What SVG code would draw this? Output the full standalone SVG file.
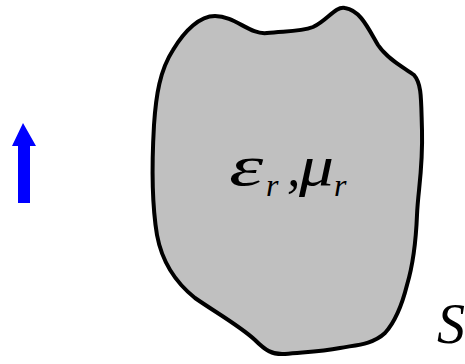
<svg xmlns="http://www.w3.org/2000/svg" width="465" height="364" viewBox="0 0 465 364">
<style>
.t{font-family:"Liberation Serif","DejaVu Serif",serif;font-style:italic;fill:#000}
</style>
<rect width="465" height="364" fill="#fff"/>
<g id="body">
<path d="M173,50 C185,30 200,16 215,16 C235,16 250,35 267,33 C285,31 300,32 313,27 C328,20 335,6 345,8 C360,10 368,28 378,45 C388,60 405,68 414,75 C422,84 421,100 422,130 C423,170 418,190 417,215 C416,240 413,265 407,285 C402,305 395,322 385,333 C372,345 355,345 340,348 C320,352 305,352 285,354 C272,355 265,350 255,340 C240,326 215,312 195,298 C175,282 162,262 157,235 C152,205 152,160 154,125 C156,95 160,70 173,50 Z" fill="#c0c0c0" stroke="#000" stroke-width="4" stroke-linejoin="round"/>
<text class="t" font-size="58" transform="translate(229,185) scale(1.5,1)">ε</text>
<text class="t" x="266" y="196" font-size="32">r</text>
<text class="t" x="287" y="186" font-size="54" font-style="normal">,</text>
<text class="t" font-size="58" transform="translate(299,185) scale(1.2,1)">μ</text>
<text class="t" x="334" y="196" font-size="32">r</text>
</g>
<g id="arrow">
<polygon points="23,123 36,146 30,146 30,203 18,203 18,146 12,146" fill="#0000ff"/>
</g>
<g id="label-S">
<text class="t" x="437" y="343" font-size="56">S</text>
</g>
</svg>
